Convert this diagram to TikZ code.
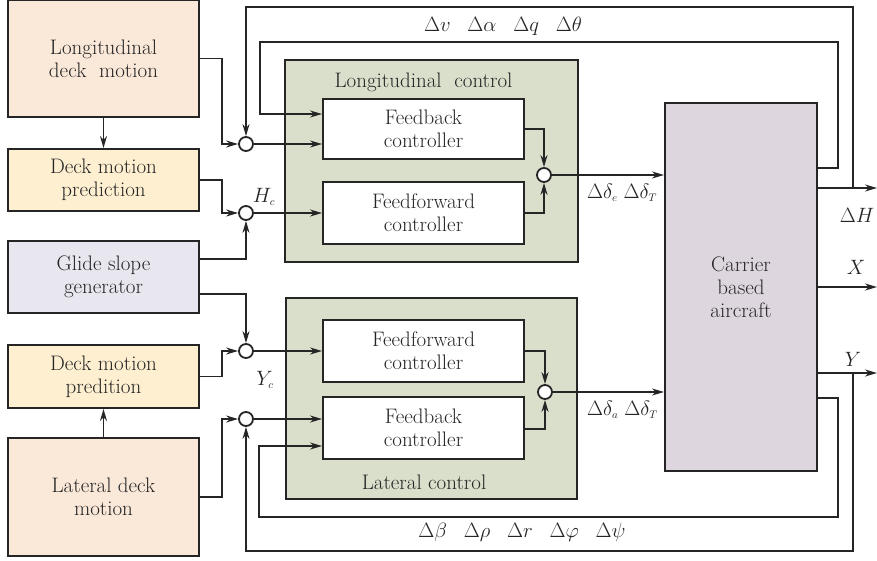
\documentclass[tikz,border=0pt]{standalone}
\usetikzlibrary{arrows.meta,calc}
\definecolor{peach}{HTML}{FAE8D9}
\definecolor{pale}{HTML}{FEEFD0}
\definecolor{lav}{HTML}{E8E6EE}
\definecolor{sage}{HTML}{DADFCB}
\definecolor{acft}{HTML}{DDD6DF}
\definecolor{ink}{HTML}{252525}
\newcommand\lsb[1]{_{\scriptscriptstyle #1}}
\newcommand\gp{\hspace{0.8em}}
\begin{document}
\begin{tikzpicture}[x=1pt,y=-1pt,font=\fontsize{21}{23}\selectfont,
  box/.style={draw=ink,line width=2pt,align=center,inner sep=0pt,text=ink},
  ln/.style={line width=1.8pt,draw=ink},
  arr/.style={ln,-{Stealth[length=12pt,width=7pt]}},
  sum/.style={circle,draw=ink,line width=1.8pt,fill=white,minimum size=14pt,inner sep=0pt},
  lbl/.style={inner sep=0pt,text=ink}]
\useasboundingbox (0,0) rectangle (877,561);
% left column
\node[box,fill=peach,minimum width=191pt,minimum height=117pt] (ldm) at (103.5,58.5) {Longitudinal\\deck\ \ motion};
\node[box,fill=pale,minimum width=191pt,minimum height=62pt] (dmp) at (103.5,180) {Deck motion\\prediction};
\node[box,fill=lav,minimum width=191pt,minimum height=72pt] (gsg) at (103.5,277) {Glide slope\\generator};
\node[box,fill=pale,minimum width=191pt,minimum height=63pt] (dmq) at (103.5,376.5) {Deck motion\\predition};
\node[box,fill=peach,minimum width=191pt,minimum height=118pt] (ldl) at (103.5,497) {Lateral deck\\motion};
% control groups
\node[box,fill=sage,minimum width=293pt,minimum height=202pt] (lc) at (431.5,161) {};
\node[lbl] (lct) at (423.5,82) {Longitudinal\ \ control};
\node[box,fill=white,minimum width=201pt,minimum height=60pt] (fb1) at (423.5,129) {Feedback\\controller};
\node[box,fill=white,minimum width=201pt,minimum height=62pt] (ff1) at (423.5,213) {Feedforward\\controller};
\node[box,fill=sage,minimum width=291pt,minimum height=201pt] (tc) at (431,398.5) {};
\node[lbl] (tct) at (424,482) {Lateral control};
\node[box,fill=white,minimum width=201pt,minimum height=62pt] (ff2) at (423.5,351) {Feedforward\\controller};
\node[box,fill=white,minimum width=201pt,minimum height=62pt] (fb2) at (423.5,428) {Feedback\\controller};
% aircraft
\node[box,fill=acft,minimum width=152pt,minimum height=368pt] (ac) at (741,287) {Carrier\\based\\aircraft};
% summing junctions
\node[sum] (s1) at (246,144) {};
\node[sum] (s2) at (246,213) {};
\node[sum] (s3) at (246,351) {};
\node[sum] (s4) at (246,419) {};
\node[sum] (s5) at (544,175) {};
\node[sum] (s6) at (545,392) {};
% free coordinates
\coordinate (oH) at (877,188);
\coordinate (oX) at (877,287);
\coordinate (oY) at (877,373);
% left connectors
\draw[arr] (ldm.south) -- (dmp.north);
\draw[arr] (ldl.north) -- (dmq.south);
\draw[arr] (ldm.east) -- (222,58.5) |- (s1.west);
\draw[arr] (dmp.east) -- (222,180) |- (s2.west);
\draw[arr] (gsg.east |- 0,259) -| (s2.south);
\draw[arr] (gsg.east |- 0,294) -| (s3.north);
\draw[arr] (dmq.east) -- (222,376.5) |- (s3.west);
\draw[arr] (ldl.east) -- (222,497) |- (s4.west);
% into controllers
\draw[arr] (s1.east) -- (s1.east -| fb1.west);
\draw[arr] (s2.east) -- (s2.east -| ff1.west);
\draw[arr] (s3.east) -- (s3.east -| ff2.west);
\draw[arr] (s4.east) -- (s4.east -| fb2.west);
\draw[arr] (fb1.east) -| (s5.north);
\draw[arr] (ff1.east) -| (s5.south);
\draw[arr] (ff2.east) -| (s6.north);
\draw[arr] (fb2.east |- 0,429) -| (s6.south);
\draw[arr] (s5.east) -- (s5.east -| ac.west);
\draw[arr] (s6.east) -- (s6.east -| ac.west);
% aircraft outputs
\draw[arr] (ac.east |- oH) -- (oH);
\draw[arr] (ac.east) -- (oX);
\draw[arr] (ac.east |- oY) -- (oY);
% longitudinal feedback loops
\draw[arr] (ac.east |- 0,168) -- (838,168) -- (838,42) -- (260,42) -- (260,114) -- (fb1.west |- 0,114);
\draw[arr] (853,188) -- (853,7) -- (246,7) -- (s1.north);
% lateral feedback loops
\draw[arr] (ac.east |- 0,398) -- (838,398) -- (838,517) -- (259,517) -- (259,446) -- (fb2.west |- 0,446);
\draw[arr] (853,373) -- (853,551) -- (246,551) -- (s4.south);
% labels
\node[lbl] (l1) at (503,26) {$\Delta v\gp \Delta\alpha\gp \Delta q\gp \Delta\theta$};
\node[lbl,anchor=west] (l2) at (587,193) {$\Delta\delta\lsb{e}\;\Delta\delta\lsb{T}$};
\node[lbl,anchor=west] (l3) at (587,410) {$\Delta\delta\lsb{a}\;\Delta\delta\lsb{T}$};
\node[lbl] (hc) at (264,197) {$H\lsb{c}$};
\node[lbl] (yc) at (265,380) {$Y\lsb{c}$};
\node[lbl] (dh) at (857,215) {$\Delta H$};
\node[lbl] (lx) at (856,267) {$X$};
\node[lbl] (ly) at (853,359) {$Y$};
\node[lbl] (l4) at (522,532) {$\Delta\beta\gp \Delta\rho\gp \Delta r\gp \Delta\varphi\gp \Delta\psi$};
\end{tikzpicture}
\end{document}
